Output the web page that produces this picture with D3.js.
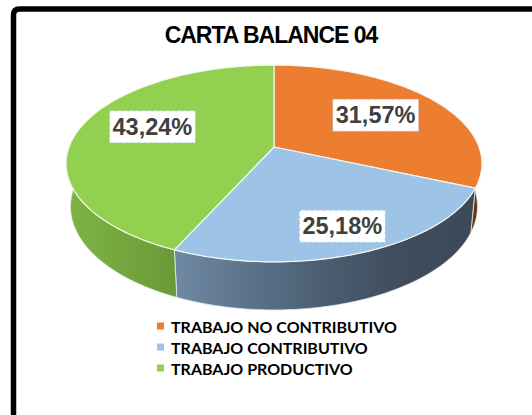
<!DOCTYPE html>
<html>
<head>
<meta charset="utf-8">
<script src="https://cdn.jsdelivr.net/npm/d3@7"></script>
<style>
  html, body { margin: 0; padding: 0; background: #fff; }
  svg { display: block; }
</style>
</head>
<body>
<svg id="chart" width="532" height="415"></svg>
<script>
// ---- data ----
const title = "CARTA BALANCE 04";
const categories = ["TRABAJO NO CONTRIBUTIVO", "TRABAJO CONTRIBUTIVO", "TRABAJO PRODUCTIVO"];
const values = [31.57, 25.18, 43.24];
const valueLabels = ["31,57%", "25,18%", "43,24%"];

// ---- styles ----
const topColors = ["#ed7d31", "#9dc3e6", "#92d050"];
const sideStops = [
  [["0", "#8c4a1d"], ["1", "#6a3410"]],
  [["0", "#7590ab"], ["0.26", "#6f89a4"], ["0.6", "#4c5f74"], ["0.8", "#3f4d5d"], ["1", "#3c4957"]],
  [["0", "#7eb544"], ["0.26", "#6a9a38"], ["1", "#5f8a32"]]
];
const labelRadius = [0.6, 0.78, 0.62];
const labelNudge = [[4, -2], [3, 0], [0, -8]];

const svg = d3.select("#chart");
const defs = svg.append("defs");

// ---- 3D pie projection (tilted disc seen in perspective) ----
const cx = 274, cy = 147;
const tilt = 27.8 * Math.PI / 180;
const cosA = Math.cos(tilt), sinA = Math.sin(tilt);
const camDist = 5.281, focal = 1082.6, thick = 0.24;

// angle in radians, measured clockwise from the far side; y = 0 top face, -thick bottom face
function proj(theta, y, r = 1) {
  const X = r * Math.sin(theta);
  const Z = -r * Math.cos(theta);
  const depth = camDist - (y * sinA + Z * cosA);
  const u = X * focal / depth;
  const v = (y * cosA - Z * sinA) * focal / depth;
  return [cx + u, cy - v];
}

const pie = d3.pie().sort(null).value(d => d)(values);
const arcPts = (a0, a1, y) => {
  const n = Math.max(2, Math.ceil(Math.abs(a1 - a0) / 0.02));
  return d3.range(n + 1).map(i => proj(a0 + (a1 - a0) * i / n, y));
};
const line = d3.line();

// side walls (front half only)
const sideG = svg.append("g");
const visLo = Math.PI / 2, visHi = Math.PI * 1.5;
pie.forEach((p, i) => {
  const grad = defs.append("linearGradient")
    .attr("id", "side" + i).attr("gradientUnits", "userSpaceOnUse")
    .attr("x1", 66).attr("y1", 0).attr("x2", 484).attr("y2", 0);
  sideStops[i].forEach(s => grad.append("stop").attr("offset", s[0]).attr("stop-color", s[1]));
  const a0 = Math.max(p.startAngle, visLo), a1 = Math.min(p.endAngle, visHi);
  if (a1 <= a0) return;
  const pts = arcPts(a0, a1, 0).concat(arcPts(a1, a0, -thick));
  sideG.append("path")
    .attr("d", line(pts) + "Z")
    .attr("fill", `url(#side${i})`)
    .attr("stroke", "#e8ecef").attr("stroke-width", 0.8);
});

// top faces
const topG = svg.append("g");
const centerPt = proj(0, 0, 0);
pie.forEach((p, i) => {
  const pts = [centerPt].concat(arcPts(p.startAngle, p.endAngle, 0));
  topG.append("path")
    .attr("d", line(pts) + "Z")
    .attr("fill", topColors[i])
    .attr("stroke", "#f4f7f0").attr("stroke-width", 1.2)
    .attr("stroke-linejoin", "round");
});

// value labels
const labG = svg.append("g");
pie.forEach((p, i) => {
  const mid = (p.startAngle + p.endAngle) / 2;
  const [lx, ly] = proj(mid, 0, labelRadius[i]);
  const x = lx + labelNudge[i][0], y = ly + labelNudge[i][1];
  const t = labG.append("text")
    .attr("x", x).attr("y", y)
    .attr("text-anchor", "middle").attr("dominant-baseline", "central")
    .attr("font-family", "Liberation Sans, Arial, sans-serif")
    .attr("font-weight", "bold").attr("font-size", 23.5)
    .attr("fill", "#404040")
    .text(valueLabels[i]);
  const bb = t.node().getBBox();
  labG.insert("rect", "text")
    .attr("x", bb.x - 3).attr("y", y - 16).attr("width", bb.width + 6).attr("height", 32)
    .attr("fill", "#fff")
    .attr("stroke", "#9dc3e6").attr("stroke-width", 1.3)
    .attr("stroke-dasharray", "1.3,4.7");
});

// title
svg.append("text")
  .attr("x", 271).attr("y", 43)
  .attr("text-anchor", "middle")
  .attr("font-family", "Liberation Sans, Arial, sans-serif")
  .attr("font-weight", "bold").attr("font-size", 23)
  .attr("letter-spacing", -1)
  .attr("fill", "#000")
  .text(title);

// legend
const lg = svg.append("g").attr("transform", "translate(157,326)");
categories.forEach((c, i) => {
  const row = lg.append("g").attr("transform", `translate(0,${i * 21})`);
  row.append("rect").attr("x", 0).attr("y", -3.5).attr("width", 7).attr("height", 7)
    .attr("fill", topColors[i]);
  row.append("text").attr("x", 14).attr("y", 0)
    .attr("dominant-baseline", "central")
    .attr("font-family", "Lato, sans-serif").attr("font-weight", "bold")
    .attr("font-size", 16).attr("fill", "#000")
    .text(c);
});

// frame
svg.append("path")
  .attr("d", "M13.5,415 L13.5,15 Q13.5,9 19.5,9 L532,9")
  .attr("fill", "none").attr("stroke", "#000").attr("stroke-width", 5.5);
</script>
</body>
</html>
